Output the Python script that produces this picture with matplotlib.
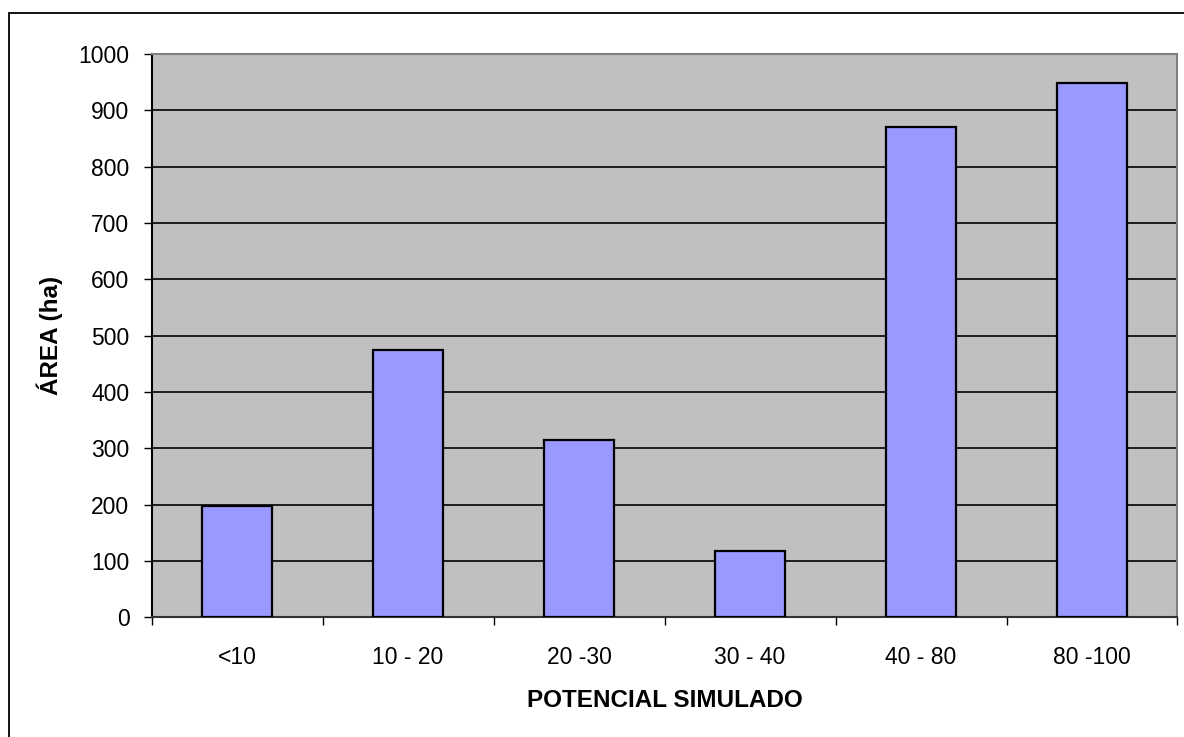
import matplotlib
matplotlib.use("Agg")
import matplotlib.pyplot as plt
from matplotlib.patches import Rectangle
import numpy as np

categories = ["<10", "10 - 20", "20 -30", "30 - 40", "40 - 80", "80 -100"]
area_ha = [197, 474, 314, 117, 870, 949]
y_ticks = list(range(0, 1001, 100))

plt.rcParams["font.family"] = ["Liberation Sans", "DejaVu Sans"]

fig = plt.figure(figsize=(11.84, 7.37), dpi=100)
fig.patch.set_facecolor("white")
ax = fig.add_axes([0.1281, 0.1624, 0.8664, 0.7643])
ax.set_facecolor("#C0C0C0")

x = np.arange(len(categories))
ax.bar(x, area_ha, width=0.41, color="#9999FF", edgecolor="black",
       linewidth=1.6, zorder=3)

ax.set_xlim(-0.5, len(categories) - 0.5)
ax.set_ylim(0, 1000)
ax.set_yticks(y_ticks)
ax.set_yticklabels([str(v) for v in y_ticks], fontsize=16.5)
ax.yaxis.grid(True, color="black", linewidth=1.2, zorder=1)
ax.set_axisbelow(True)
ax.tick_params(axis="y", direction="out", length=6, width=1, pad=10,
               colors="black")

# Category labels at centres, tick marks at category boundaries
ax.set_xticks(x)
ax.set_xticklabels(categories, fontsize=16.5)
ax.tick_params(axis="x", which="major", length=0, pad=21)
ax.set_xticks(np.arange(-0.5, len(categories)), minor=True)
ax.tick_params(axis="x", which="minor", direction="out", length=6, width=1,
               color="black")

for side in ("top", "right"):
    ax.spines[side].set_color("#808080")
    ax.spines[side].set_linewidth(1.5)
ax.spines["left"].set_color("black")
ax.spines["left"].set_linewidth(1.5)
ax.spines["bottom"].set_color("#333333")
ax.spines["bottom"].set_linewidth(1.5)

ax.set_xlabel("POTENCIAL SIMULADO", fontsize=17.5, fontweight="bold", labelpad=14)
ax.set_ylabel("ÁREA (ha)", fontsize=17.5, fontweight="bold", labelpad=11)

# Chart-area frame
fig.patches.append(Rectangle((9 / 1184, -0.05), 1.2, 1 - 13 / 737 + 0.05,
                             transform=fig.transFigure, fill=False,
                             edgecolor="black", linewidth=1.3, zorder=0))

fig.savefig("out.png", dpi=100, facecolor="white")
